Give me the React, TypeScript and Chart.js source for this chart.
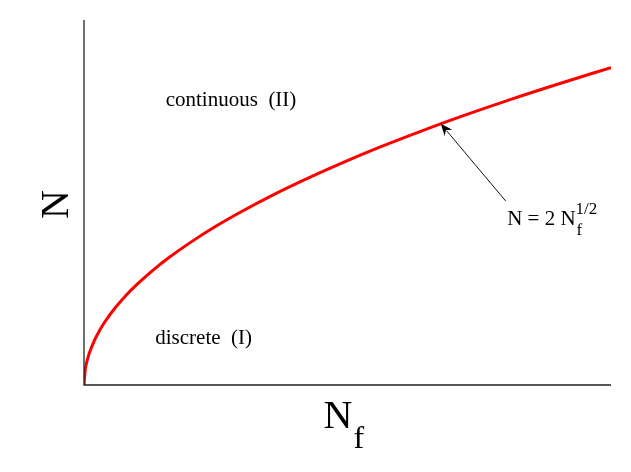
import React, { useEffect, useRef } from "react";
import { Chart, registerables } from "chart.js";
Chart.register(...registerables);

// Curve N = 2 Nf^(1/2)
const nfValues = [0, 0.25, 0.5, 1, 2, 3, 4, 6, 8, 10, 13, 16, 20, 25, 30, 36, 42, 49, 56, 64, 72, 81, 90, 100];
const nValues = [0, 1, 1.41, 2, 2.83, 3.46, 4, 4.9, 5.66, 6.32, 7.21, 8, 8.94, 10, 10.95, 12, 12.96, 14, 14.97, 16, 16.97, 18, 18.97, 20];
const xMax = 100;
const yMax = 23;

// Region labels (data coordinates)
const regionLabels = ["continuous  (II)", "discrete  (I)"];
const regionX = [27.9, 22.7];
const regionY = [17.9, 2.96];

// Annotation: arrow tip on curve, text anchor
const arrowTip = { x: 67.7, y: 16.46 };
const arrowTail = { x: 80.0, y: 11.6 };
const annotText = { x: 80.3, y: 10.5 };

const SERIF = '"Liberation Serif", "DejaVu Serif", serif';

const overlay = {
  id: "overlay",
  afterDraw(chart: any) {
    const { ctx, chartArea, scales } = chart;
    const xs = scales.x;
    const ys = scales.y;
    ctx.save();
    // axes
    ctx.strokeStyle = "#222";
    ctx.lineWidth = 1.3;
    ctx.beginPath();
    ctx.moveTo(chartArea.left, chartArea.top);
    ctx.lineTo(chartArea.left, chartArea.bottom);
    ctx.lineTo(chartArea.right, chartArea.bottom);
    ctx.stroke();

    ctx.fillStyle = "#000";
    ctx.textBaseline = "middle";
    ctx.textAlign = "center";
    ctx.font = `21px ${SERIF}`;
    regionLabels.forEach((t, i) => {
      ctx.fillText(t, xs.getPixelForValue(regionX[i]), ys.getPixelForValue(regionY[i]));
    });

    // y axis title "N" rotated
    ctx.save();
    ctx.translate(chartArea.left - 30, (chartArea.top + chartArea.bottom) / 2 + 2);
    ctx.rotate(-Math.PI / 2);
    ctx.font = `40px ${SERIF}`;
    ctx.textBaseline = "alphabetic";
    ctx.fillText("N", 0, 14);
    ctx.restore();

    // x axis title N_f
    const cx = (chartArea.left + chartArea.right) / 2;
    ctx.textBaseline = "alphabetic";
    ctx.textAlign = "left";
    ctx.font = `40px ${SERIF}`;
    const nW = ctx.measureText("N").width;
    const nx = cx - 24;
    ctx.fillText("N", nx, 428);
    ctx.font = `32px ${SERIF}`;
    ctx.fillText("f", nx + nW + 1, 448);

    // arrow
    const tx = xs.getPixelForValue(arrowTip.x);
    const ty = ys.getPixelForValue(arrowTip.y);
    const sx = xs.getPixelForValue(arrowTail.x);
    const sy = ys.getPixelForValue(arrowTail.y);
    const ang = Math.atan2(ty - sy, tx - sx);
    const headLen = 12;
    const bx = tx - headLen * Math.cos(ang);
    const by = ty - headLen * Math.sin(ang);
    ctx.strokeStyle = "#111";
    ctx.lineWidth = 1;
    ctx.beginPath();
    ctx.moveTo(sx, sy);
    ctx.lineTo(bx + 3 * Math.cos(ang), by + 3 * Math.sin(ang));
    ctx.stroke();
    ctx.fillStyle = "#000";
    ctx.beginPath();
    ctx.moveTo(tx, ty);
    ctx.lineTo(bx + 5 * Math.sin(ang), by - 5 * Math.cos(ang));
    ctx.lineTo(bx + 4 * Math.cos(ang), by + 4 * Math.sin(ang));
    ctx.lineTo(bx - 5 * Math.sin(ang), by + 5 * Math.cos(ang));
    ctx.closePath();
    ctx.fill();

    // annotation text N = 2 N_f^{1/2}
    let ax = xs.getPixelForValue(annotText.x);
    const ay = ys.getPixelForValue(annotText.y) + 7;
    ctx.font = `21px ${SERIF}`;
    ctx.fillText("N = 2 N", ax, ay);
    ax += ctx.measureText("N = 2 N").width;
    ctx.font = `17px ${SERIF}`;
    ctx.fillText("f", ax + 1, ay + 10);
    ctx.fillText("1/2", ax, ay - 11);
    ctx.restore();
  },
};

export default function App() {
  const ref = useRef<HTMLCanvasElement>(null);
  useEffect(() => {
    document.body.style.margin = "0";
    const chart = new Chart(ref.current!, {
      type: "line",
      data: {
        datasets: [
          {
            data: nfValues.map((x, i) => ({ x, y: nValues[i] })),
            borderColor: "#ff0000",
            borderWidth: 3,
            pointRadius: 0,
            tension: 0.4,
            cubicInterpolationMode: "monotone",
            fill: false,
          },
        ],
      },
      options: {
        animation: false,
        responsive: false,
        maintainAspectRatio: false,
        layout: { padding: { left: 84, right: 20, top: 20, bottom: 87 } },
        plugins: { legend: { display: false }, tooltip: { enabled: false } },
        scales: {
          x: { type: "linear", min: 0, max: xMax, display: false },
          y: { type: "linear", min: 0, max: yMax, display: false },
        },
      },
      plugins: [overlay],
    });
    return () => chart.destroy();
  }, []);
  return (
    <div style={{ width: 631, height: 472, background: "#fff" }}>
      <canvas ref={ref} width={631} height={472} style={{ display: "block" }} />
    </div>
  );
}
